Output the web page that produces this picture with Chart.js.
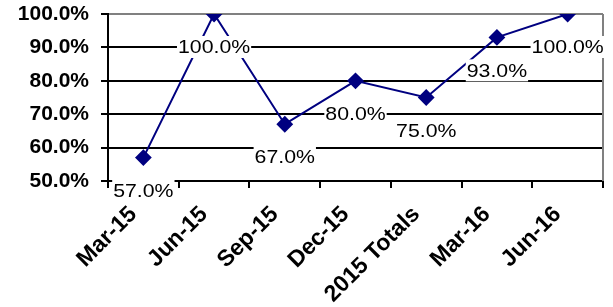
<!DOCTYPE html>
<html>
<head>
<meta charset="utf-8">
<script src="https://cdn.jsdelivr.net/npm/chart.js@4/dist/chart.umd.min.js"></script>
<style>
  html, body { margin: 0; padding: 0; background: #ffffff; }
  #wrap { width: 613px; height: 307px; position: relative; }
</style>
</head>
<body>
<div id="wrap"><canvas id="c" width="613" height="307"></canvas></div>
<script>
const categories = ['Mar-15', 'Jun-15', 'Sep-15', 'Dec-15', '2015 Totals', 'Mar-16', 'Jun-16'];
const values = [57.0, 100.0, 67.0, 80.0, 75.0, 93.0, 100.0];
const yMin = 50;
const yMax = 100;
const yStep = 10;

const lineColor = '#000080';

const rightBorder = {
  id: 'rightBorder',
  beforeDatasetsDraw(chart) {
    const { ctx, chartArea } = chart;
    ctx.save();
    ctx.strokeStyle = '#808080';
    ctx.lineWidth = 2;
    ctx.beginPath();
    ctx.moveTo(chartArea.right, chartArea.top);
    ctx.lineTo(chartArea.right, chartArea.bottom);
    ctx.stroke();
    ctx.restore();
  }
};

const pointLabels = {
  id: 'pointLabels',
  afterDraw(chart) {
    const ctx = chart.ctx;
    const meta = chart.getDatasetMeta(0);
    const sx = 1.12;
    ctx.save();
    ctx.font = '19px "Liberation Sans", Arial, sans-serif';
    meta.data.forEach((pt, i) => {
      const txt = values[i].toFixed(1) + '%';
      const w = ctx.measureText(txt).width * sx;
      const cx = pt.x;
      const cy = pt.y + 33;
      ctx.fillStyle = '#ffffff';
      ctx.fillRect(cx - w / 2 - 1, cy - 11, w + 2, 22);
      ctx.save();
      ctx.translate(cx, cy);
      ctx.scale(sx, 1);
      ctx.fillStyle = '#000000';
      ctx.textAlign = 'center';
      ctx.textBaseline = 'middle';
      ctx.fillText(txt, 0, 1);
      ctx.restore();
    });
    ctx.restore();
  }
};

new Chart(document.getElementById('c'), {
  type: 'line',
  data: {
    labels: categories,
    datasets: [{
      data: values,
      borderColor: lineColor,
      backgroundColor: lineColor,
      borderWidth: 2,
      pointStyle: 'rectRot',
      pointRadius: 7,
      pointHoverRadius: 7,
      pointBackgroundColor: lineColor,
      pointBorderColor: lineColor,
      tension: 0,
      fill: false
    }]
  },
  options: {
    responsive: false,
    animation: false,
    devicePixelRatio: 1,
    layout: { padding: { top: 14, right: 10, left: 0, bottom: 0 } },
    plugins: {
      legend: { display: false },
      tooltip: { enabled: false },
      title: { display: false }
    },
    scales: {
      x: {
        type: 'category',
        offset: true,
        grid: {
          display: true,
          drawOnChartArea: false,
          offset: true,
          tickLength: 7,
          color: '#000000',
          lineWidth: 2
        },
        border: { display: true, color: '#000000', width: 2 },
        ticks: {
          autoSkip: false,
          minRotation: 45,
          maxRotation: 45,
          padding: 13,
          labelOffset: -10,
          color: '#000000',
          font: { family: '"Liberation Sans", Arial, sans-serif', size: 23, weight: 'bold' }
        },
        afterFit(scale) { scale.height = 126; scale.paddingLeft = 0; scale.paddingRight = 0; }
      },
      y: {
        min: yMin,
        max: yMax,
        ticks: {
          stepSize: yStep,
          padding: 12,
          color: '#000000',
          font: { family: '"Liberation Sans", Arial, sans-serif', size: 21, weight: 'bold' },
          callback: (v) => Number(v).toFixed(1) + '%'
        },
        grid: {
          color: (ctx) => (ctx.tick && ctx.tick.value === yMax ? '#808080' : '#000000'),
          tickColor: '#000000',
          lineWidth: 2,
          tickLength: 7
        },
        border: { display: true, color: '#000000', width: 2 },
        afterFit(scale) { scale.width = 108; scale.paddingTop = 0; scale.paddingBottom = 0; }
      }
    }
  },
  plugins: [rightBorder, pointLabels]
});
</script>
</body>
</html>
